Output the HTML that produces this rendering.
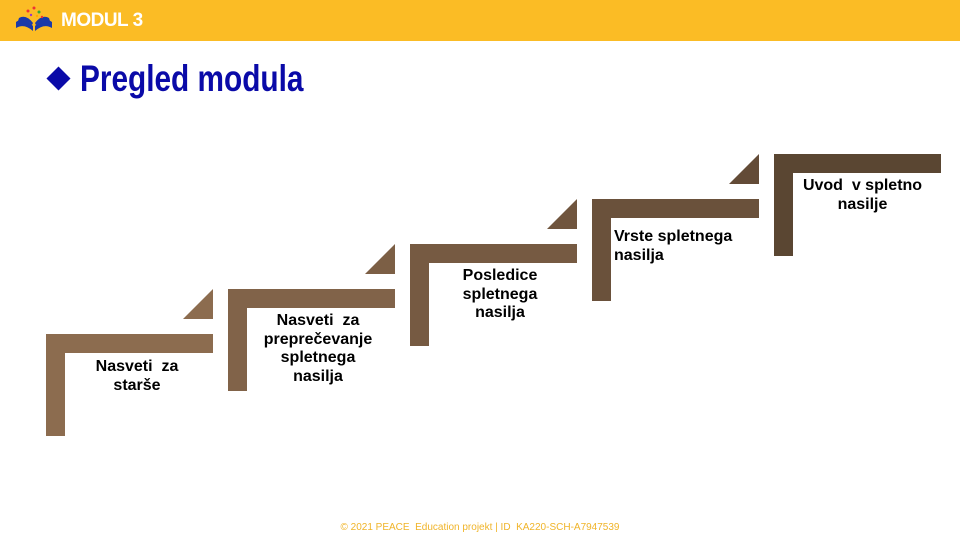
<!DOCTYPE html>
<html><head><style>
body{margin:0;width:960px;height:540px;position:relative;background:#fff;font-family:"Liberation Sans",sans-serif;overflow:hidden}
.hdr{position:absolute;left:0;top:0;width:960px;height:41px;background:#FBBC25}
.mod{position:absolute;left:61px;top:10px;color:#fff;font-weight:bold;font-size:19px;letter-spacing:-0.5px}
.title{position:absolute;left:80px;top:58px;color:#0a0aa8;font-weight:bold;font-size:37px;transform:scaleX(0.805);transform-origin:left top;white-space:nowrap}
.dia{position:absolute;left:50px;top:70px;width:17px;height:17px;background:#0a0aa8;transform:rotate(45deg)}
.t{position:absolute;font-weight:bold;font-size:16px;color:#000;line-height:18.5px;text-align:center}
.foot{position:absolute;left:0;width:960px;top:522px;text-align:center;color:#F0B429;font-size:10px}
</style></head><body>
<div class="hdr"></div>
<svg style="position:absolute;left:14px;top:4px" width="40" height="30" viewBox="0 0 40 30">
<path d="M2 18 Q10 12 19 22 L19 27 Q10 19 2 24Z" fill="#1a3aa8"/>
<path d="M38 18 Q30 12 21 22 L21 27 Q30 19 38 24Z" fill="#1a3aa8"/>
<path d="M5 14 Q12 10 19 19 L18 21 Q11 14 4 17Z" fill="#1a3aa8"/>
<path d="M35 14 Q28 10 21 19 L22 21 Q29 14 36 17Z" fill="#1a3aa8"/>
<circle cx="14" cy="7" r="1.5" fill="#e33"/><circle cx="20" cy="4" r="1.5" fill="#e33"/><circle cx="25" cy="8" r="1.5" fill="#3a3"/><circle cx="17" cy="11" r="1.2" fill="#93c"/><circle cx="23" cy="12" r="1.2" fill="#fa0"/><circle cx="28" cy="13" r="1.2" fill="#e33"/>
</svg>
<div class="mod">MODUL 3</div>
<div class="dia"></div>
<div class="title">Pregled modula</div>
<svg style="position:absolute;left:0;top:0" width="960" height="540">
<g fill="#8C6C4F"><rect x="46" y="334" width="167" height="19"/><rect x="46" y="334" width="19" height="102"/></g>
<polygon points="183,319 213,319 213,289" fill="#8C6C4F"/>
<g fill="#816349"><rect x="228" y="289" width="167" height="19"/><rect x="228" y="289" width="19" height="102"/></g>
<polygon points="365,274 395,274 395,244" fill="#7C5F45"/>
<g fill="#765a42"><rect x="410" y="244" width="167" height="19"/><rect x="410" y="244" width="19" height="102"/></g>
<polygon points="547,229 577,229 577,199" fill="#70553e"/>
<g fill="#6a513b"><rect x="592" y="199" width="167" height="19"/><rect x="592" y="199" width="19" height="102"/></g>
<polygon points="729,184 759,184 759,154" fill="#634b37"/>
<g fill="#5a4632"><rect x="774" y="154" width="167" height="19"/><rect x="774" y="154" width="19" height="102"/></g>
</svg>
<div class="t" style="left:67px;width:140px;top:358px">Nasveti&nbsp; za<br>starše</div>
<div class="t" style="left:248px;width:140px;top:312px">Nasveti&nbsp; za<br>preprečevanje<br>spletnega<br>nasilja</div>
<div class="t" style="left:430px;width:140px;top:267px">Posledice<br>spletnega<br>nasilja</div>
<div class="t" style="left:614px;width:145px;top:228px;text-align:left">Vrste spletnega<br>nasilja</div>
<div class="t" style="left:790px;width:145px;top:177px">Uvod&nbsp; v spletno<br>nasilje</div>
<div class="foot">© 2021 PEACE&nbsp; Education projekt | ID&nbsp; KA220-SCH-A7947539</div>
</body></html>
